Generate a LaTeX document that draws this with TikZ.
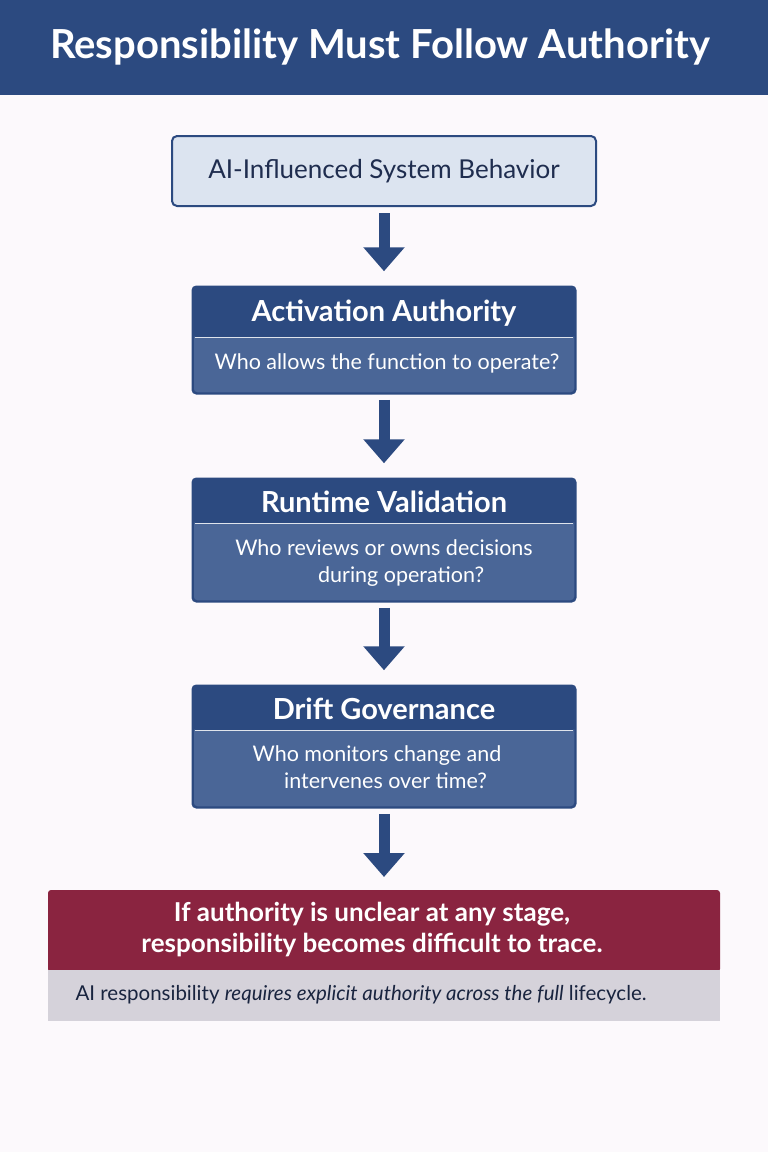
\documentclass[tikz,border=0pt]{standalone}
\usepackage{fontspec}
\setmainfont{Lato}
\usetikzlibrary{arrows.meta, positioning}
\definecolor{navy}{HTML}{2C4A80}
\definecolor{navylight}{HTML}{4A6697}
\definecolor{paleblue}{HTML}{DCE4F0}
\definecolor{wine}{HTML}{8A2440}
\definecolor{greyband}{HTML}{D5D2DA}
\definecolor{bgpink}{HTML}{FCF9FC}
\definecolor{inktext}{HTML}{1F2D4F}

\begin{document}
\begin{tikzpicture}[
    x=1pt, y=-1pt,
    stage/.style={rectangle, draw=navy, line width=1.5pt, fill=navylight, rounded corners=4pt, minimum width=382pt, inner sep=0pt},
    head/.style={text=white, font=\fontsize{29}{33}\selectfont\bfseries},
    body/.style={text=white, font=\fontsize{21.5}{27}\selectfont, align=center},
    flow/.style={draw=navy, line width=11pt, -{Triangle[width=40pt,length=24pt]}, shorten <=6pt, shorten >=15pt}
]
    \fill[bgpink] (0,0) rectangle (768,1152);
    \useasboundingbox (0,0) rectangle (768,1152);
    % title banner
    \fill[navy] (0,0) rectangle (768,95);
    \node[text=white, font=\fontsize{40}{44}\selectfont\bfseries] (title) at (380,47) {Responsibility Must Follow Authority};

    % system box
    \node[rectangle, draw=navy, line width=2pt, fill=paleblue, rounded corners=5pt, minimum width=424pt, minimum height=70pt, text=inktext, font=\fontsize{26}{30}\selectfont] (system) at (384,171) {AI-Influenced System Behavior};

    % stages
    \node[stage, minimum height=106pt] (activation) at (384,340) {};
    \node[stage, minimum height=122pt] (runtime) at (384,540) {};
    \node[stage, minimum height=121pt] (drift) at (384,746.5) {};
    \fill[navy, rounded corners=4pt] (activation.north west) rectangle ([yshift=-51pt]activation.north east);
    \fill[navy, rounded corners=4pt] (runtime.north west) rectangle ([yshift=-45pt]runtime.north east);
    \fill[navy, rounded corners=4pt] (drift.north west) rectangle ([yshift=-45pt]drift.north east);
    \draw[navy, line width=1.5pt, rounded corners=4pt] (activation.north west) rectangle (activation.south east);
    \draw[navy, line width=1.5pt, rounded corners=4pt] (runtime.north west) rectangle (runtime.south east);
    \draw[navy, line width=1.5pt, rounded corners=4pt] (drift.north west) rectangle (drift.south east);
    \draw[white!85!navy, line width=1.2pt] ([xshift=3pt,yshift=-51pt]activation.north west) -- ([xshift=-3pt,yshift=-51pt]activation.north east);
    \draw[white!85!navy, line width=1.2pt] ([xshift=3pt,yshift=-45pt]runtime.north west) -- ([xshift=-3pt,yshift=-45pt]runtime.north east);
    \draw[white!85!navy, line width=1.2pt] ([xshift=3pt,yshift=-45pt]drift.north west) -- ([xshift=-3pt,yshift=-45pt]drift.north east);

    \node[head] (activationhead) at (384,313) {Activation Authority};
    \node[body] (activationtext) at (387,363) {Who allows the function to operate?};
    \node[head] (runtimehead) at (384,502) {Runtime Validation};
    \node[body] (runtimetext) at (384,563) {Who reviews or owns decisions\\ \hspace{1.6em}during operation?};
    \node[body] (drifttext) at (377,767) {Who monitors change and\\ \hspace{0.8em}intervenes over time?};
    \node[head] (drifthead) at (384,709) {Drift Governance};

    % conclusion
    \fill[wine, rounded corners=3pt] (48,890) rectangle (720,972);
    \fill[greyband] (48,970) rectangle (720,1021);
    \node[text=white, font=\fontsize{26}{31}\selectfont\bfseries, align=center] (warning) at (372,930) {If authority is unclear at any stage,\\ responsibility becomes difficult to trace.};
    \node[anchor=west, text=inktext!80!black, font=\fontsize{20.5}{24}\selectfont] (summary) at (72,995) {AI responsibility \textit{requires explicit authority across the full} lifecycle.};
    \coordinate (warntop) at (384,890);

    \path[flow] (system) -- (activation);
    \path[flow] (activation) -- (runtime);
    \path[flow] (runtime) -- (drift);
    \path[flow, shorten >=13pt] (drift) -- (warntop);
\end{tikzpicture}
\end{document}
